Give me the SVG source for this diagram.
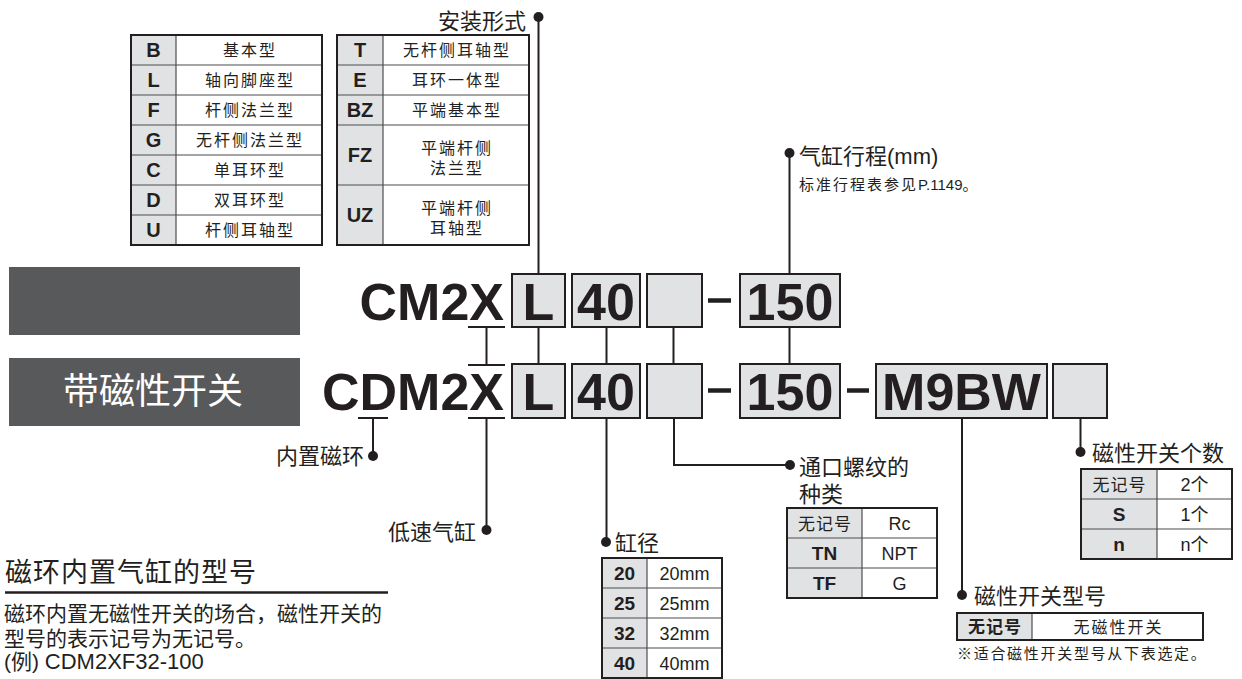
<svg xmlns="http://www.w3.org/2000/svg" width="1242" height="679" viewBox="0 0 1242 679">
<style>
text{font-family:'Liberation Sans','Noto Sans CJK SC',sans-serif;fill:#231f20}
.hd{fill:#e1e2e3}
.ol{fill:none;stroke:#231f20;stroke-width:2}
.il{stroke:#4d4d4f;stroke-width:1.2}
.k{font-weight:bold;font-size:20px;text-anchor:middle}
.k19{font-weight:bold;font-size:19px;text-anchor:middle}
.kc{font-size:17px;letter-spacing:1px;text-anchor:middle}
.kb{font-weight:bold;font-size:17px;letter-spacing:1px;text-anchor:middle}
.t{font-size:16px;letter-spacing:2px;text-anchor:middle}
.v{font-size:18px;text-anchor:middle}
.big{font-weight:bold;font-size:52px}
.bc{font-weight:bold;font-size:52px;text-anchor:middle}
.box{fill:#e1e2e3;stroke:#231f20;stroke-width:2}
.cn{fill:none;stroke:#231f20;stroke-width:2}
.dash{stroke:#231f20;stroke-width:4.5}
.dot{fill:#231f20}
.lbl{font-size:22px}
</style>

<!-- left grey bands -->
<g id="band-standard"><rect x="9" y="267" width="291" height="68" fill="#58595b"/></g>
<g id="band-switch"><rect x="9" y="358" width="291" height="68" fill="#58595b"/>
<text x="153" y="404" font-size="36" text-anchor="middle" style="fill:#ffffff">带磁性开关</text></g>

<!-- mounting table 1 -->
<g id="mount-table-1">
<rect x="131" y="35" width="45" height="210" class="hd"/>
<line x1="176" y1="35" x2="176" y2="245" class="il"/>
<line x1="131" y1="65" x2="322" y2="65" class="il"/>
<line x1="131" y1="95" x2="322" y2="95" class="il"/>
<line x1="131" y1="125" x2="322" y2="125" class="il"/>
<line x1="131" y1="155" x2="322" y2="155" class="il"/>
<line x1="131" y1="185" x2="322" y2="185" class="il"/>
<line x1="131" y1="215" x2="322" y2="215" class="il"/>
<rect x="131" y="35" width="191" height="210" class="ol"/>
<text class="k" x="153.5" y="57">B</text><text class="t" x="250" y="56">基本型</text>
<text class="k" x="153.5" y="87">L</text><text class="t" x="250" y="86">轴向脚座型</text>
<text class="k" x="153.5" y="117">F</text><text class="t" x="250" y="116">杆侧法兰型</text>
<text class="k" x="153.5" y="147">G</text><text class="t" x="250" y="146">无杆侧法兰型</text>
<text class="k" x="153.5" y="177">C</text><text class="t" x="250" y="176">单耳环型</text>
<text class="k" x="153.5" y="207">D</text><text class="t" x="250" y="206">双耳环型</text>
<text class="k" x="153.5" y="237">U</text><text class="t" x="250" y="236">杆侧耳轴型</text>
</g>

<!-- mounting table 2 -->
<g id="mount-table-2">
<rect x="337" y="35" width="46" height="210" class="hd"/>
<line x1="383" y1="35" x2="383" y2="245" class="il"/>
<line x1="337" y1="65" x2="529" y2="65" class="il"/>
<line x1="337" y1="95" x2="529" y2="95" class="il"/>
<line x1="337" y1="125" x2="529" y2="125" class="il"/>
<line x1="337" y1="185" x2="529" y2="185" class="il"/>
<rect x="337" y="35" width="192" height="210" class="ol"/>
<text class="k" x="360" y="57">T</text><text class="t" x="457" y="56">无杆侧耳轴型</text>
<text class="k" x="360" y="87">E</text><text class="t" x="457" y="86">耳环一体型</text>
<text class="k" x="360" y="117">BZ</text><text class="t" x="457" y="116">平端基本型</text>
<text class="k" x="360" y="162">FZ</text><text class="t" x="457" y="154">平端杆侧</text><text class="t" x="457" y="174">法兰型</text>
<text class="k" x="360" y="222">UZ</text><text class="t" x="457" y="214">平端杆侧</text><text class="t" x="457" y="234">耳轴型</text>
</g>

<!-- code row 1 -->
<g id="code-cm2x">
<text class="big" x="504" y="320" text-anchor="end">CM2X</text>
<line x1="468" y1="327" x2="505" y2="327" class="cn"/>
<rect x="512" y="274" width="53" height="53" class="box"/><text class="bc" x="538.5" y="320">L</text>
<rect x="572" y="274" width="68" height="53" class="box"/><text class="bc" x="606" y="320">40</text>
<rect x="647" y="274" width="55" height="53" class="box"/>
<line x1="708" y1="300.5" x2="731" y2="300.5" class="dash"/>
<rect x="740" y="274" width="100" height="53" class="box"/><text class="bc" x="790" y="320">150</text>
</g>

<!-- code row 2 -->
<g id="code-cdm2x">
<text class="big" x="504" y="410" text-anchor="end">CDM2X</text>
<line x1="468" y1="365" x2="505" y2="365" class="cn"/>
<line x1="358" y1="418" x2="388" y2="418" class="cn"/>
<line x1="468" y1="418" x2="505" y2="418" class="cn"/>
<rect x="512" y="364" width="53" height="54" class="box"/><text class="bc" x="538.5" y="410">L</text>
<rect x="572" y="364" width="68" height="54" class="box"/><text class="bc" x="606" y="410">40</text>
<rect x="647" y="364" width="55" height="54" class="box"/>
<line x1="708" y1="390.5" x2="731" y2="390.5" class="dash"/>
<rect x="740" y="364" width="100" height="54" class="box"/><text class="bc" x="790" y="410">150</text>
<line x1="847" y1="390.5" x2="869" y2="390.5" class="dash"/>
<rect x="876" y="364" width="171" height="54" class="box"/><text class="bc" x="961.5" y="410">M9BW</text>
<rect x="1053" y="364" width="54" height="54" class="box"/>
</g>

<!-- connectors -->
<g id="connectors">
<path class="cn" d="M538.5 17V274M538.5 327V364"/>
<path class="cn" d="M486.5 327V365"/>
<path class="cn" d="M606.5 327V364M673.5 327V364M789.5 327V364"/>
<path class="cn" d="M789.5 274V153"/>
<path class="cn" d="M373 418V456"/>
<path class="cn" d="M486.5 418V530"/>
<path class="cn" d="M606.5 418V542"/>
<path class="cn" d="M674 418V465H790"/>
<path class="cn" d="M962 418V595"/>
<path class="cn" d="M1080.5 418V452"/>
<circle class="dot" cx="538.5" cy="17" r="5"/>
<circle class="dot" cx="789.5" cy="153" r="5"/>
<circle class="dot" cx="373" cy="456" r="5"/>
<circle class="dot" cx="486.5" cy="530" r="5"/>
<circle class="dot" cx="606" cy="542" r="5"/>
<circle class="dot" cx="790" cy="465" r="5"/>
<circle class="dot" cx="962" cy="595" r="5"/>
<circle class="dot" cx="1080.5" cy="452" r="5"/>
</g>

<!-- labels -->
<g id="label-mount"><text class="lbl" x="526" y="28.5" text-anchor="end">安装形式</text></g>
<g id="label-stroke"><text class="lbl" x="799" y="164">气缸行程(mm)</text>
<text x="799" y="190" font-size="15"><tspan letter-spacing="2">标准行程表参见</tspan>P.1149。</text></g>
<g id="label-magnet"><text class="lbl" x="364" y="464" text-anchor="end">内置磁环</text></g>
<g id="label-lowspeed"><text class="lbl" x="476" y="540" text-anchor="end">低速气缸</text></g>

<g id="bore">
<text class="lbl" x="615" y="551">缸径</text>
<rect x="602" y="558" width="45" height="120" class="hd"/>
<line x1="647" y1="558" x2="647" y2="678" class="il"/>
<line x1="602" y1="588" x2="722" y2="588" class="il"/>
<line x1="602" y1="618" x2="722" y2="618" class="il"/>
<line x1="602" y1="648" x2="722" y2="648" class="il"/>
<rect x="602" y="558" width="120" height="120" class="ol"/>
<text class="k19" x="624.5" y="580">20</text><text class="v" x="684.5" y="579.5">20mm</text>
<text class="k19" x="624.5" y="610">25</text><text class="v" x="684.5" y="609.5">25mm</text>
<text class="k19" x="624.5" y="640">32</text><text class="v" x="684.5" y="639.5">32mm</text>
<text class="k19" x="624.5" y="670">40</text><text class="v" x="684.5" y="669.5">40mm</text>
</g>

<g id="port">
<text class="lbl" x="799" y="475">通口螺纹的</text>
<text class="lbl" x="799" y="501.5">种类</text>
<rect x="787" y="508" width="75" height="90" class="hd"/>
<line x1="862" y1="508" x2="862" y2="598" class="il"/>
<line x1="787" y1="538" x2="937" y2="538" class="il"/>
<line x1="787" y1="568" x2="937" y2="568" class="il"/>
<rect x="787" y="508" width="150" height="90" class="ol"/>
<text class="kc" x="825" y="529.5">无记号</text><text class="v" x="899.5" y="529.5">Rc</text>
<text class="k19" x="824.5" y="560">TN</text><text class="v" x="899.5" y="559.5">NPT</text>
<text class="k19" x="824.5" y="590">TF</text><text class="v" x="899.5" y="589.5">G</text>
</g>

<g id="switch-count">
<text class="lbl" x="1092" y="461">磁性开关个数</text>
<rect x="1081" y="469" width="76" height="90" class="hd"/>
<line x1="1157" y1="469" x2="1157" y2="559" class="il"/>
<line x1="1081" y1="499" x2="1232" y2="499" class="il"/>
<line x1="1081" y1="529" x2="1232" y2="529" class="il"/>
<rect x="1081" y="469" width="151" height="90" class="ol"/>
<text class="kc" x="1119.5" y="490.5">无记号</text><text class="v" x="1194.5" y="490.5" font-size="17">2个</text>
<text class="k19" x="1119" y="521">S</text><text class="v" x="1194.5" y="520.5" font-size="17">1个</text>
<text class="k19" x="1119" y="551">n</text><text class="v" x="1194.5" y="550.5" font-size="17">n个</text>
</g>

<g id="switch-model">
<text class="lbl" x="974" y="604">磁性开关型号</text>
<rect x="957" y="613" width="75" height="27" class="hd"/>
<line x1="1032" y1="613" x2="1032" y2="640" class="il"/>
<rect x="957" y="613" width="246" height="27" class="ol"/>
<text class="kb" x="995" y="633">无记号</text>
<text class="t" x="1118.5" y="632.5">无磁性开关</text>
<text x="957" y="659" font-size="15" letter-spacing="1.7">※适合磁性开关型号从下表选定。</text>
</g>

<g id="note">
<text x="5" y="582" font-size="27" letter-spacing="1">磁环内置气缸的型号</text>
<line x1="5" y1="592.5" x2="388" y2="592.5" stroke="#231f20" stroke-width="2.5"/>
<text x="4" y="621" font-size="21">磁环内置无磁性开关的场合，磁性开关的</text>
<text x="4" y="646" font-size="21">型号的表示记号为无记号。</text>
<text x="4" y="669" font-size="21">(例) <tspan font-size="22">CDM2XF32-100</tspan></text>
</g>
</svg>
